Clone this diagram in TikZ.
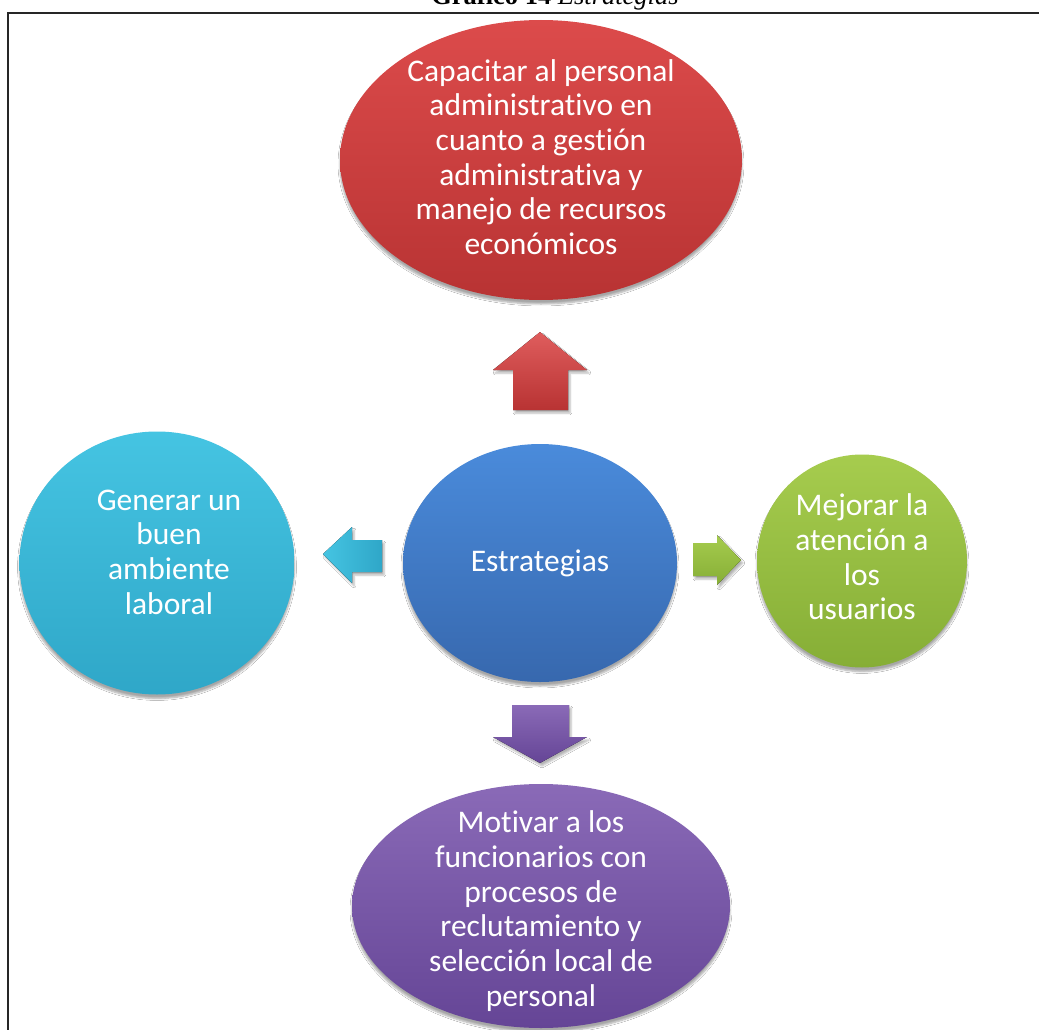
\documentclass[tikz,border=0pt]{standalone}
\usepackage{fontspec}
\setmainfont{Carlito}[Ligatures={NoCommon}]
\newfontfamily\titlefont{Liberation Serif}
\usetikzlibrary{shapes.geometric,shadows.blur}

\definecolor{redT}{HTML}{DC4B4B}
\definecolor{redB}{HTML}{B83333}
\definecolor{blueT}{HTML}{4A8BDB}
\definecolor{blueB}{HTML}{3768AE}
\definecolor{cyanT}{HTML}{45C4E2}
\definecolor{cyanB}{HTML}{2FA7C8}
\definecolor{greenT}{HTML}{A6CC4E}
\definecolor{greenB}{HTML}{86AE36}
\definecolor{purpT}{HTML}{8A6AB7}
\definecolor{purpB}{HTML}{654596}

\tikzset{
  bubble/.style={ellipse, inner sep=0pt, draw=none,
    blur shadow={shadow xshift=0pt, shadow yshift=-4pt, shadow blur steps=6, shadow opacity=35}},
  bubbletext/.style={text=white, align=center, font=\fontsize{31.5}{34.7}\selectfont},
  blockarrow/.style={draw=none,
    blur shadow={shadow xshift=2pt, shadow yshift=-3pt, shadow blur steps=4, shadow opacity=30}},
}

\begin{document}
\begin{tikzpicture}[x=1pt,y=-1pt]
\clip (0,0) rectangle (1039,1030);
\fill[white] (0,0) rectangle (1039,1030);

% caption (cut by the page top)
\node[anchor=base, inner sep=0pt, font=\titlefont\fontsize{26.5}{30}\selectfont] (title) at (555,4.5)
  {\textbf{Gráfico 14} \textit{Estrategias}};

% frame
\draw[line width=1.8pt, black!85] (8,1040) -- (8,13) -- (1045,13);

% bubbles
\node[bubble, minimum width=402pt, minimum height=280pt, top color=redT, bottom color=redB] (top) at (541,160) {};
\node[bubble, minimum width=274pt, minimum height=238pt, top color=blueT, bottom color=blueB] (center) at (540,563) {};
\node[bubble, minimum width=275pt, minimum height=263pt, top color=cyanT, bottom color=cyanB] (left) at (157,563) {};
\node[bubble, minimum width=210pt, minimum height=213pt, top color=greenT, bottom color=greenB] (right) at (862,561) {};
\node[bubble, minimum width=378pt, minimum height=244pt, top color=purpT, bottom color=purpB] (bottom) at (541,906) {};

% bubble texts
\node[bubbletext] (toptext) at (541,157) {Capacitar al personal\\administrativo en\\cuanto a gestión\\administrativa y\\manejo de recursos\\económicos};
\node[bubbletext] (centertext) at (540,563) {Estrategias};
\node[bubbletext] (lefttext) at (169,552) {Generar un\\buen\\ambiente\\laboral};
\node[bubbletext] (righttext) at (862,557) {Mejorar la\\atención a\\los\\usuarios};
\node[bubbletext] (bottomtext) at (541,911) {Motivar a los\\funcionarios con\\procesos de\\reclutamiento y\\selección local de\\personal};

% block arrows
\fill[blockarrow, top color=redT!90!white, bottom color=redB]
  (540,332) -- (587,370) -- (568,370) -- (568,410) -- (513,410) -- (513,370) -- (493,370) -- cycle;
\fill[blockarrow, left color=cyanT, right color=cyanB]
  (323,554) -- (352,527) -- (352,540) -- (382,540) -- (382,572) -- (352,572) -- (352,583) -- cycle;
\fill[blockarrow, top color=greenT, bottom color=greenB]
  (741,560) -- (717,535) -- (717,543) -- (693,543) -- (693,576) -- (717,576) -- (717,585) -- cycle;
\fill[blockarrow, top color=purpT, bottom color=purpB]
  (540,763) -- (587,737) -- (569,737) -- (569,705) -- (512,705) -- (512,737) -- (493,737) -- cycle;
\end{tikzpicture}
\end{document}
